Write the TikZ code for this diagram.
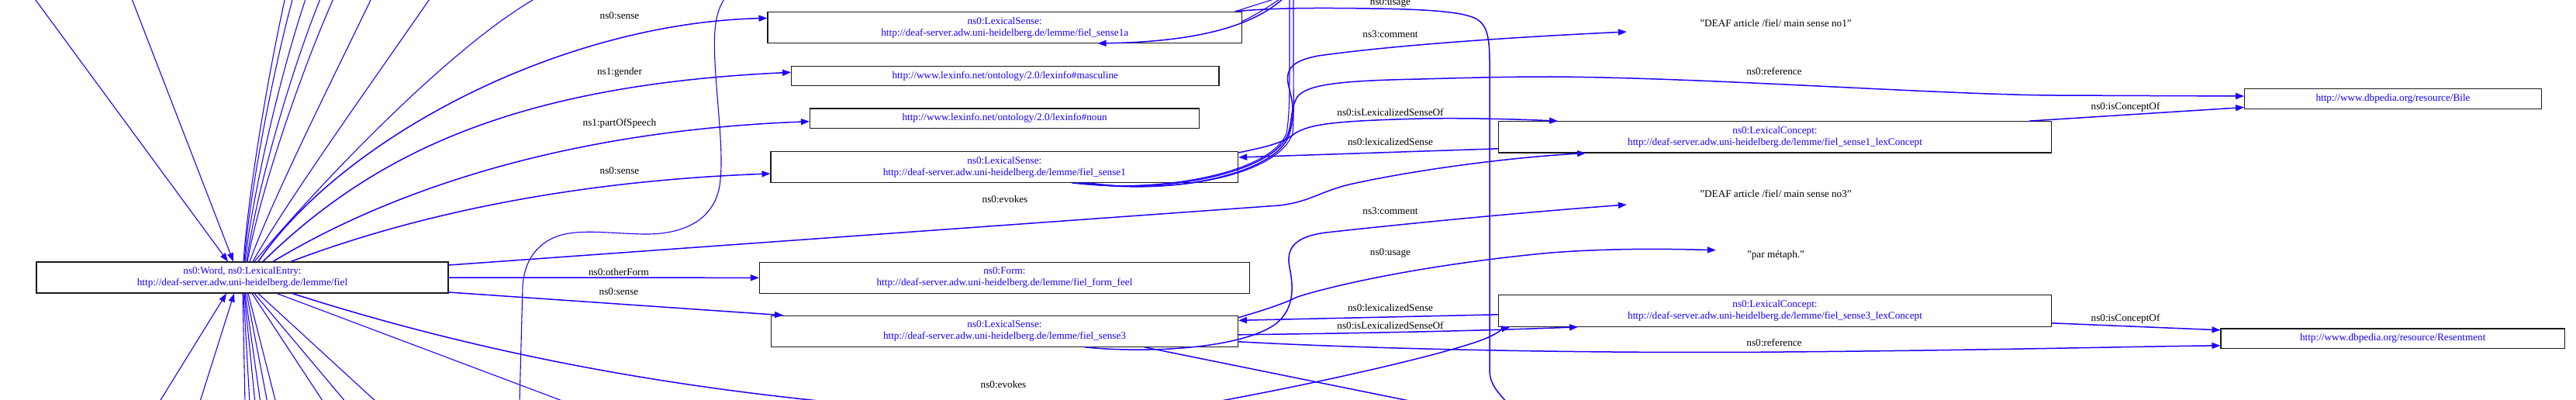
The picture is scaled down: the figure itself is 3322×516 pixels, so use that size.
\documentclass[tikz,border=0pt]{standalone}
\usepackage{fontspec}
\setmainfont{Liberation Serif}
\usetikzlibrary{arrows.meta}
\definecolor{edgeblue}{RGB}{28,0,255}
\definecolor{txtblue}{RGB}{20,0,255}
\begin{document}
\begin{tikzpicture}[x=1pt,y=-1pt,
  box/.style={draw=black!90, line width=1.1pt, rectangle, inner sep=0pt, text=txtblue, align=center, font=\fontsize{13.2}{15}\selectfont},
  elab/.style={text=black, inner sep=0pt, text height=9pt, text depth=0pt, font=\fontsize{13.2}{15}\selectfont},
  ed/.style={draw=edgeblue, line width=1.5pt},
  fan/.style={draw=edgeblue, line width=1.1pt},
  arr/.style={ed, -{Triangle[length=11pt,width=8pt]}},
  farr/.style={fan, -{Triangle[length=11pt,width=8pt]}}]
\useasboundingbox (0,0) rectangle (3322,516);
\clip (0,0) rectangle (3322,516);

% ---------- nodes ----------
\node[box, minimum width=531pt, minimum height=40pt] (word) at (312.5,358) {ns0:Word, ns0:LexicalEntry:\\http://deaf-server.adw.uni-heidelberg.de/lemme/fiel};
\node[box, minimum width=611.5pt, minimum height=40pt] (s1a) at (1295.75,35.4) {ns0:LexicalSense:\\http://deaf-server.adw.uni-heidelberg.de/lemme/fiel\_sense1a};
\node[box, minimum width=551.3pt, minimum height=25.3pt] (masc) at (1296.3,98.3) {http://www.lexinfo.net/ontology/2.0/lexinfo\#masculine};
\node[box, minimum width=502.3pt, minimum height=25.3pt] (noun) at (1295.6,152.7) {http://www.lexinfo.net/ontology/2.0/lexinfo\#noun};
\node[box, minimum width=602.6pt, minimum height=40pt] (s1) at (1295.3,215.5) {ns0:LexicalSense:\\http://deaf-server.adw.uni-heidelberg.de/lemme/fiel\_sense1};
\node[box, minimum width=632pt, minimum height=40pt] (form) at (1295.5,358.3) {ns0:Form:\\http://deaf-server.adw.uni-heidelberg.de/lemme/fiel\_form\_feel};
\node[box, minimum width=601.8pt, minimum height=40pt] (s3) at (1295.5,427.3) {ns0:LexicalSense:\\http://deaf-server.adw.uni-heidelberg.de/lemme/fiel\_sense3};
\node[box, minimum width=712.8pt, minimum height=40.3pt] (lc1) at (2289,176.8) {ns0:LexicalConcept:\\http://deaf-server.adw.uni-heidelberg.de/lemme/fiel\_sense1\_lexConcept};
\node[box, minimum width=712.8pt, minimum height=41pt] (lc3) at (2289,400.8) {ns0:LexicalConcept:\\http://deaf-server.adw.uni-heidelberg.de/lemme/fiel\_sense3\_lexConcept};
\node[box, minimum width=382.7pt, minimum height=25.6pt] (bile) at (3086,127.5) {http://www.dbpedia.org/resource/Bile};
\node[box, minimum width=443.4pt, minimum height=25.7pt] (resent) at (3085.7,436.8) {http://www.dbpedia.org/resource/Resentment};

\node[elab, minimum width=384pt] (no1) at (2290,30) {"DEAF article /fiel/ main sense no1"};
\node[elab, minimum width=384pt] (no3) at (2290,250) {"DEAF article /fiel/ main sense no3"};
\node[elab, minimum width=154pt] (metaph) at (2290,327.7) {"par métaph."};

% ---------- edge labels ----------
\node[elab] (la1) at (799,20) {ns0:sense};
\node[elab] (la2) at (799,92) {ns1:gender};
\node[elab] (la3) at (799,158) {ns1:partOfSpeech};
\node[elab] (la4) at (799,220) {ns0:sense};
\node[elab] (la5) at (1296,257) {ns0:evokes};
\node[elab] (la6) at (798,351) {ns0:otherForm};
\node[elab] (la7) at (798,376) {ns0:sense};
\node[elab] (la8) at (1294,496) {ns0:evokes};
\node[elab] (la9) at (1793,2) {ns0:usage};
\node[elab] (la10) at (1793,44) {ns3:comment};
\node[elab] (la11) at (1793,145) {ns0:isLexicalizedSenseOf};
\node[elab] (la12) at (1793,183) {ns0:lexicalizedSense};
\node[elab] (la13) at (1793,272) {ns3:comment};
\node[elab] (la14) at (1793,325) {ns0:usage};
\node[elab] (la15) at (1793,397) {ns0:lexicalizedSense};
\node[elab] (la16) at (1793,420) {ns0:isLexicalizedSenseOf};
\node[elab] (la17) at (2288,92) {ns0:reference};
\node[elab] (la18) at (2741,137) {ns0:isConceptOf};
\node[elab] (la19) at (2741,410) {ns0:isConceptOf};
\node[elab] (la20) at (2288,442) {ns0:reference};

% ---------- off-picture ends ----------
\coordinate (tT1) at (368,-4);
\coordinate (tT2) at (378,-4);
\coordinate (tT3) at (395,-4);
\coordinate (tT4) at (414,-4);
\coordinate (tT5) at (431,-4);
\coordinate (tT6) at (480,-4);
\coordinate (tT7) at (556,-4);
\coordinate (tT8) at (694,-4);
\coordinate (in1) at (43,-4);
\coordinate (in2) at (169,-4);
\coordinate (in3) at (204,521);
\coordinate (in4) at (257,521);
\coordinate (bV1) at (316,520);
\coordinate (bV2) at (322,520);
\coordinate (bV3) at (329,520);
\coordinate (bV4) at (336,520);
\coordinate (bV5) at (345,520);
\coordinate (bV6) at (356,520);
\coordinate (bV7) at (418,520);
\coordinate (bV8) at (447,520);
\coordinate (bV9) at (487,520);
\coordinate (bA) at (733,520);
\coordinate (wTop) at (936,-4);
\coordinate (wBot) at (670,520);
\coordinate (s1aUp1) at (1649,-3);
\coordinate (s1aUp2) at (1653,-3);
\coordinate (s1aIn) at (1656,-3);
\coordinate (s1Up1) at (1663,-4);
\coordinate (s1Up2) at (1668,-4);
\coordinate (usageBot) at (1946,522);
\coordinate (s3Down) at (1832,520);

% ---------- Word: top fan ----------
\draw[fan] ([xshift=1.5pt]word.north) .. controls (320,250) and (345,100) .. (tT1);
\draw[fan] ([xshift=2.5pt]word.north) .. controls (322,250) and (350,100) .. (tT2);
\draw[fan] ([xshift=3.5pt]word.north) .. controls (326,250) and (360,100) .. (tT3);
\draw[fan] ([xshift=5.5pt]word.north) .. controls (330,250) and (372,100) .. (tT4);
\draw[fan] ([xshift=6.5pt]word.north) .. controls (335,250) and (385,100) .. (tT5);
\draw[fan] ([xshift=9.5pt]word.north) .. controls (350,260) and (420,120) .. (tT6);
\draw[fan] ([xshift=13.5pt]word.north) .. controls (370,260) and (470,120) .. (tT7);
\draw[fan] ([xshift=15.5pt]word.north) .. controls (410,240) and (580,60) .. (tT8);
\draw[farr] (in1) -- ([xshift=-18.5pt]word.north);
\draw[farr] (in2) -- ([xshift=-11.5pt]word.north);

% ---------- Word: labelled edges ----------
\draw[arr] ([xshift=20.5pt]word.north) .. controls (440,180) and (720,30) .. ([yshift=12pt]s1a.west);
\draw[arr] ([xshift=26.5pt]word.north) .. controls (480,200) and (660,110) .. ([yshift=5pt]masc.west);
\draw[arr] ([xshift=39.5pt]word.north) .. controls (480,260) and (700,170) .. ([yshift=-4pt]noun.west);
\draw[arr] ([xshift=62.5pt]word.north) .. controls (500,290) and (700,235) .. ([yshift=-8.5pt]s1.west);
\draw[arr] ([yshift=16pt]word.east) -- (1650,265) .. controls (1690,260) and (1700,248) .. (1740,238) .. controls (1830,218) and (1950,203) .. ([xshift=113pt]lc1.south west);
\draw[arr] (word.east) -- (form.west);
\draw[arr] ([yshift=-19pt]word.east) -- ([xshift=16pt]s3.north west);
\draw[arr] ([xshift=64.5pt]word.south) .. controls (600,450) and (820,492) .. (1046,516) .. controls (1250,538) and (1450,545) .. (1580,516) .. controls (1720,490) and (1870,455) .. (1915,437) .. controls (1932,430) and (1938,424) .. ([xshift=15pt]lc3.south west);

% ---------- Word: bottom fan ----------
\draw[fan] ([xshift=0.5pt]word.south) -- (bV1);
\draw[fan] ([xshift=1.5pt]word.south) -- (bV2);
\draw[fan] ([xshift=2.5pt]word.south) -- (bV3);
\draw[fan] ([xshift=3.5pt]word.south) -- (bV4);
\draw[fan] ([xshift=5.5pt]word.south) -- (bV5);
\draw[fan] ([xshift=7.5pt]word.south) -- (bV6);
\draw[fan] ([xshift=12.5pt]word.south) -- (bV7);
\draw[fan] ([xshift=15.5pt]word.south) -- (bV8);
\draw[fan] ([xshift=20.5pt]word.south) -- (bV9);
\draw[fan] ([xshift=44.5pt]word.south) -- (bA);
\draw[farr] (in3) -- ([xshift=-20.5pt]word.south);
\draw[farr] (in4) -- ([xshift=-10.5pt]word.south);

% ---------- long wiggly edge ----------
\draw[fan] (wTop) .. controls (922,15) and (920,40) .. (922,80) .. controls (925,140) and (934,200) .. (928,240) .. controls (920,285) and (880,303) .. (829,302) .. controls (790,301) and (760,297) .. (734,301) .. controls (700,306) and (676,330) .. (674,370) -- (wBot);

% ---------- sense1a ----------
\draw[fan] ([xshift=-9.5pt]s1a.north east) -- (s1aUp1);
\draw[fan] ([yshift=8pt]s1a.east) .. controls (1622,18) and (1640,6) .. (s1aUp2);
\draw[arr] (s1aIn) .. controls (1615,35) and (1540,54) .. ([xshift=-186.5pt]s1a.south east);
\draw[ed] ([xshift=-9.5pt]s1a.north east) .. controls (1640,10) and (1700,10) .. (1767,11) .. controls (1850,12) and (1890,16) .. (1905,25) .. controls (1918,33) and (1921,50) .. (1921,80) -- (1921,480) .. controls (1922,495) and (1930,505) .. (usageBot);

% ---------- sense1 ----------
\draw[fan] ([xshift=-215pt]s1.south east) .. controls (1500,250) and (1640,222) .. (1659,172) .. controls (1663,150) and (1663,120) .. (1663,80) -- (s1Up1);
\draw[fan] ([xshift=-191pt]s1.south east) .. controls (1520,252) and (1650,224) .. (1667,172) .. controls (1669,150) and (1668,120) .. (1668,80) -- (s1Up2);
\draw[arr] ([xshift=-199pt]s1.south east) .. controls (1515,253) and (1645,223) .. (1662,175) .. controls (1670,150) and (1668,135) .. (1662,112) .. controls (1656,88) and (1668,78) .. (1700,72) .. controls (1800,58) and (1950,48) .. ([yshift=-11pt]no1.west);
\draw[arr] ([xshift=-207pt]s1.south east) .. controls (1505,251) and (1642,222) .. (1661,173) .. controls (1667,155) and (1664,140) .. (1673,125) .. controls (1685,110) and (1720,104) .. (1833,102) .. controls (1900,100) and (1950,99) .. (2000,99) .. controls (2200,100) and (2500,122) .. (2650,123) -- ([yshift=3.5pt]bile.west);
\draw[arr] ([yshift=-2pt]s1.north east) .. controls (1630,190) and (1655,185) .. (1670,172) .. controls (1690,160) and (1720,156) .. (1833,153) .. controls (1900,152) and (1960,154) .. ([xshift=77pt]lc1.north west);
\draw[arr] ([yshift=-15pt]lc1.west) -- ([yshift=12.5pt]s1.east);
\draw[arr] ([xshift=-29pt]lc1.north east) -- ([yshift=-11pt]bile.west);

% ---------- sense3 ----------
\draw[arr] ([yshift=-5pt]lc3.west) -- ([yshift=14pt]s3.east);
\draw[arr] ([yshift=-4.5pt]s3.east) .. controls (1750,430) and (1900,427) .. ([xshift=103pt]lc3.south west);
\draw[arr] ([yshift=-13.5pt]s3.east) .. controls (1800,452) and (2100,456) .. (2300,454) .. controls (2550,452) and (2750,447) .. ([yshift=-9pt]resent.west);
\draw[arr] ([yshift=-3pt]s3.north east) .. controls (1630,400) and (1655,392) .. (1673,383) .. controls (1730,365) and (1850,340) .. (2000,326) .. controls (2080,320) and (2150,321) .. ([yshift=5pt]metaph.west);
\draw[arr] ([xshift=-198pt]s3.south east) .. controls (1480,456) and (1600,450) .. (1645,418) .. controls (1670,398) and (1668,370) .. (1663,345) .. controls (1658,320) and (1670,305) .. (1710,300) .. controls (1800,290) and (1950,275) .. ([yshift=-14pt]no3.west);
\draw[ed] ([xshift=-121pt]s3.south east) -- (s3Down);
\draw[arr] ([yshift=-16pt]lc3.east) -- ([yshift=11pt]resent.west);
\end{tikzpicture}
\end{document}
